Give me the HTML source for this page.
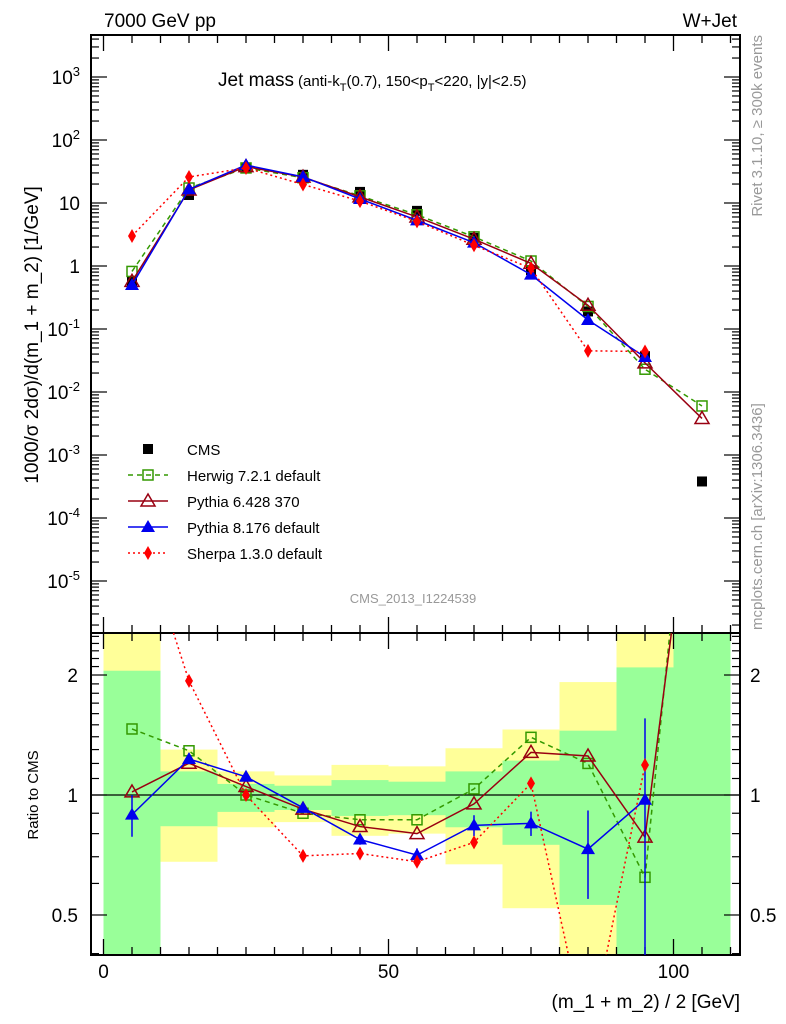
<!DOCTYPE html>
<html><head><meta charset="utf-8"><style>
body{margin:0;background:#fff;}
svg{display:block;font-family:"Liberation Sans",sans-serif;}
</style></head><body>
<svg id="c" width="786" height="1024" viewBox="0 0 786 1024">
<text x="104" y="27" font-size="19">7000 GeV pp</text>
<text x="737" y="27" font-size="19" text-anchor="end">W+Jet</text>
<text x="218" y="86" font-size="19">Jet mass<tspan font-size="15" dx="4">(anti-k</tspan><tspan font-size="11" dy="5">T</tspan><tspan font-size="15" dy="-5">(0.7), 150&lt;p</tspan><tspan font-size="11" dy="5">T</tspan><tspan font-size="15" dy="-5">&lt;220, |y|&lt;2.5)</tspan></text>
<text transform="translate(762,35) rotate(-90)" font-size="15" fill="#999" text-anchor="end">Rivet 3.1.10, ≥ 300k events</text>
<text transform="translate(762,630) rotate(-90)" font-size="15" fill="#999">mcplots.cern.ch [arXiv:1306.3436]</text>
<text transform="translate(38,335) rotate(-90)" font-size="19" text-anchor="middle">1000/σ 2dσ)/d(m_1 + m_2) [1/GeV]</text>
<text transform="translate(38,795) rotate(-90)" font-size="15" text-anchor="middle">Ratio to CMS</text>
<text x="740" y="1008" font-size="19" text-anchor="end">(m_1 + m_2) / 2 [GeV]</text>
<text x="413" y="603" font-size="13" fill="#999" text-anchor="middle">CMS_2013_I1224539</text>
<g id="bands"></g><g id="axes"></g><g id="series"></g><g id="legend"></g>
</svg>
<script>
const bins = [5,15,25,35,45,55,65,75,85,95,105];
const cms = [0.56,13.4,36,28,15,7.5,2.8,0.86,0.19,0.037,0.00038];
const herwig = [0.82,17.3,36,25.2,13,6.5,2.9,1.2,0.228,0.023,0.006];
const pythia6 = [0.57,16.1,37.8,25.8,12.5,6.0,2.66,1.1,0.238,0.029,0.0038];
const pythia8 = [0.50,16.5,40,26,11.6,5.3,2.35,0.73,0.139,0.036,null];
const sherpa = [3.0,25.9,36,19.7,10.7,5.1,2.13,0.92,0.045,0.044,null];
const pythia8Err = [0.12,0.03,0.02,0.02,0.03,0.04,0.06,0.07,0.25,0.6,0];
const bandInnerHi = [2.05,1.146,1.066,1.055,1.09,1.08,1.146,1.22,1.45,2.09,5];
const bandInnerLo = [0.3,0.835,0.907,0.917,0.886,0.89,0.83,0.75,0.53,0.3,0.3];
const bandOuterHi = [5,1.30,1.146,1.12,1.19,1.18,1.31,1.46,1.92,5,5];
const bandOuterLo = [0.3,0.68,0.83,0.855,0.79,0.80,0.67,0.52,0.3,0.3,0.3];
const mainTicks = [3,2,1,0,-1,-2,-3,-4,-5];
const ratioTicks = [2,1,0.5];
const xTicks = [0,50,100];

const NS="http://www.w3.org/2000/svg";
const L=91,R=740,T=35,M=633,B=955;
const X=v=>103.5+v*5.7;
const Y=v=>266-63*Math.log10(v);
const YR=v=>795-398.6*Math.log10(v);
const cl=(y,a,b)=>Math.max(a,Math.min(b,y));
function mk(tag,attrs,parent){const e=document.createElementNS(NS,tag);for(const k in attrs)e.setAttribute(k,attrs[k]);parent.appendChild(e);return e;}
const gB=document.getElementById('bands'),gA=document.getElementById('axes'),gS=document.getElementById('series'),gL=document.getElementById('legend');

bins.forEach((b,i)=>{
  const x0=X(b-5),x1=X(b+5);
  const yo0=cl(YR(bandOuterHi[i]),M,B),yo1=cl(YR(bandOuterLo[i]),M,B);
  let r=mk('rect',{x:x0,y:yo0,width:x1-x0,height:yo1-yo0,fill:'#ffff99'},gB);
  
  
  const yi0=cl(YR(bandInnerHi[i]),M,B),yi1=cl(YR(bandInnerLo[i]),M,B);
  r=mk('rect',{x:x0,y:yi0,width:x1-x0,height:yi1-yi0,fill:'#99ff99'},gB);
  
  
});

let f=mk('rect',{x:L,y:T,width:R-L,height:M-T,fill:'none',stroke:'#000','stroke-width':2},gA);


f=mk('rect',{x:L,y:M,width:R-L,height:B-M,fill:'none',stroke:'#000','stroke-width':2},gA);


let u=mk('line',{x1:L,x2:R,y1:YR(1),y2:YR(1),stroke:'#000','stroke-width':1.3},gA);



for(let v=0;v<=110;v+=5){
  const big=xTicks.includes(v),len=big?16:8;
  [[T,1],[M,-1],[M,1],[B,-1]].forEach(([y0,d])=>mk('line',{x1:X(v),x2:X(v),y1:y0,y2:y0+d*len,stroke:'#000','stroke-width':1.3},gA));
}
xTicks.forEach(v=>{const t=mk('text',{x:X(v),y:978,'font-size':19,'text-anchor':'middle'},gA);t.textContent=v;
  
  });

for(let e=-6;e<=3;e++){for(let m=1;m<10;m++){const v=m*Math.pow(10,e),y=Y(v);if(y<T||y>M)continue;const len=m==1?16:8;
  mk('line',{x1:L,x2:L+len,y1:y,y2:y,stroke:'#000','stroke-width':1.2},gA);
  mk('line',{x1:R,x2:R-len,y1:y,y2:y,stroke:'#000','stroke-width':1.2},gA);}}
mainTicks.forEach(e=>{const y=Y(Math.pow(10,e))+7;const t=mk('text',{x:80,y:y,'font-size':19,'text-anchor':'end'},gA);
  if(e==0)t.textContent='1';else if(e==1)t.textContent='10';else{t.textContent='10';const s=mk('tspan',{dy:-8,'font-size':13},t);s.textContent=e;}
  
  });

for(let v=0.4;v<=2.51;v+=0.1){const y=YR(v);if(y<M||y>B)continue;const big=ratioTicks.some(r=>Math.abs(r-v)<1e-6);const len=big?16:8;
  mk('line',{x1:L,x2:L+len,y1:y,y2:y,stroke:'#000','stroke-width':1.2},gA);
  mk('line',{x1:R,x2:R-len,y1:y,y2:y,stroke:'#000','stroke-width':1.2},gA);}
ratioTicks.forEach(v=>{[[78,'end'],[750,'start']].forEach(([x,a])=>{const t=mk('text',{x:x,y:YR(v)+7,'font-size':19,'text-anchor':a},gA);t.textContent=v;
  
  });});

function marker(type,x,y,col,g){
  if(type=='sq')return mk('rect',{x:x-5,y:y-5,width:10,height:10,fill:'none',stroke:col,'stroke-width':1.5},g);
  if(type=='fsq')return mk('rect',{x:x-5,y:y-5,width:10,height:10,fill:col},g);
  if(type=='tri')return mk('polygon',{points:`${x},${y-7} ${x-7},${y+5} ${x+7},${y+5}`,fill:'none',stroke:col,'stroke-width':1.5},g);
  if(type=='ftri')return mk('polygon',{points:`${x},${y-7} ${x-7},${y+5} ${x+7},${y+5}`,fill:col},g);
  return mk('polygon',{points:`${x},${y-7} ${x-4},${y} ${x},${y+7} ${x+4},${y}`,fill:col},g);
}
const series=[
  {name:'herwig',data:herwig,col:'#339900',dash:'5,4',m:'sq',label:'Herwig 7.2.1 default'},
  {name:'pythia6',data:pythia6,col:'#990011',dash:'',m:'tri',label:'Pythia 6.428 370'},
  {name:'pythia8',data:pythia8,col:'#0000ee',dash:'',m:'ftri',label:'Pythia 8.176 default',err:pythia8Err},
  {name:'sherpa',data:sherpa,col:'#ff0000',dash:'2,3',m:'dia',label:'Sherpa 1.3.0 default'}
];
bins.forEach((b,i)=>{const mm=marker('fsq',X(b),Y(cms[i]),'#000',gS);
  
  });
series.forEach(s=>{
  const g=mk('g',{},gS);
  
  
  const cp=mk('clipPath',{id:'cr'+s.name},g);mk('rect',{x:L,y:M,width:R-L,height:B-M},cp);
  let pm=[],pr=[];
  bins.forEach((b,i)=>{const v=s.data[i];if(v==null)return;pm.push([X(b),Y(v)]);pr.push([X(b),YR(v/cms[i])]);});
  let p=mk('polyline',{points:pm.map(p=>p.join(',')).join(' '),fill:'none',stroke:s.col,'stroke-width':1.5,'stroke-dasharray':s.dash},g);
  
  
  const gr=mk('g',{'clip-path':`url(#cr${s.name})`},g);
  p=mk('polyline',{points:pr.map(p=>p.join(',')).join(' '),fill:'none',stroke:s.col,'stroke-width':1.5,'stroke-dasharray':s.dash},gr);
  
  
  bins.forEach((b,i)=>{const v=s.data[i];if(v==null)return;
    if(s.err&&s.err[i]){const r=v/cms[i];mk('line',{x1:X(b),x2:X(b),y1:YR(r*(1+s.err[i])),y2:YR(Math.max(0.01,r*(1-s.err[i]))),stroke:s.col,'stroke-width':1.5},gr);}
    let mm=marker(s.m,X(b),Y(v),s.col,g);
    
    
    mm=marker(s.m,X(b),YR(v/cms[i]),s.col,gr);
    
    
  });
});
const lg=[{label:'CMS',col:'#000',m:'fsq',dash:null}].concat(series);
lg.forEach((s,i)=>{const y=449+i*26;
  const g=mk('g',{},gL);
  
  
  if(s.dash!==null)mk('line',{x1:128,x2:168,y1:y,y2:y,stroke:s.col,'stroke-width':1.5,'stroke-dasharray':s.dash},g);
  marker(s.m,148,y,s.col,g);
  const t=mk('text',{x:187,y:y+6,'font-size':15},g);t.textContent=s.label;});
</script>
</body></html>
